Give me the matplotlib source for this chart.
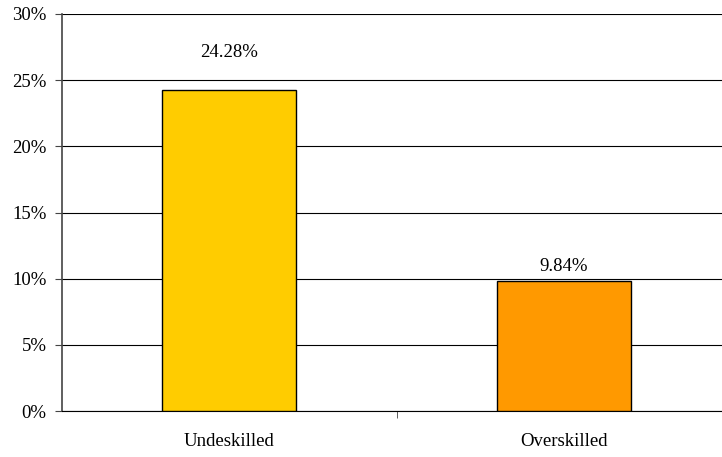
import numpy as np
import matplotlib.pyplot as plt
from matplotlib.ticker import FuncFormatter

plt.rcParams["font.family"] = ["Liberation Serif", "DejaVu Serif"]
plt.rcParams["font.size"] = 13.5

# Data
categories = ["Undeskilled", "Overskilled"]
shares = [24.28, 9.84]
bar_colors = ["#ffcc00", "#ff9900"]
label_gap = [21, 4]  # points above each bar

fig = plt.figure(figsize=(7.22, 4.57), dpi=100)
ax = fig.add_axes([62 / 722, 1 - 411 / 457, 669 / 722, 397 / 457])

x = np.arange(len(categories))
bars = ax.bar(x, shares, width=0.4, color=bar_colors, edgecolor="black",
              linewidth=1.0, zorder=3)

for b, v, gap in zip(bars, shares, label_gap):
    ax.annotate(f"{v:.2f}%", (b.get_x() + b.get_width() / 2, v),
                xytext=(0, gap), textcoords="offset points",
                ha="center", va="bottom")

ax.set_xlim(-0.5, 1.5)
ax.set_ylim(0, 30)
ax.set_yticks(np.arange(0, 31, 5))
ax.yaxis.set_major_formatter(FuncFormatter(lambda v, _: f"{v:.0f}%"))
ax.set_xticks(x)
ax.set_xticklabels(categories)
ax.set_xticks([0.5], minor=True)
ax.tick_params(axis="x", which="major", length=0, pad=16)
ax.tick_params(axis="x", which="minor", length=5, direction="out", color="#444444")
ax.tick_params(axis="y", length=5, direction="out", color="#444444", pad=6)

ax.grid(axis="y", color="black", linewidth=0.8, zorder=0)
ax.set_axisbelow(True)
for s in ["top", "right"]:
    ax.spines[s].set_visible(False)
ax.spines["left"].set_color("#444444")
ax.spines["left"].set_linewidth(1.2)
ax.spines["bottom"].set_color("black")

fig.savefig("out.png", dpi=100)
